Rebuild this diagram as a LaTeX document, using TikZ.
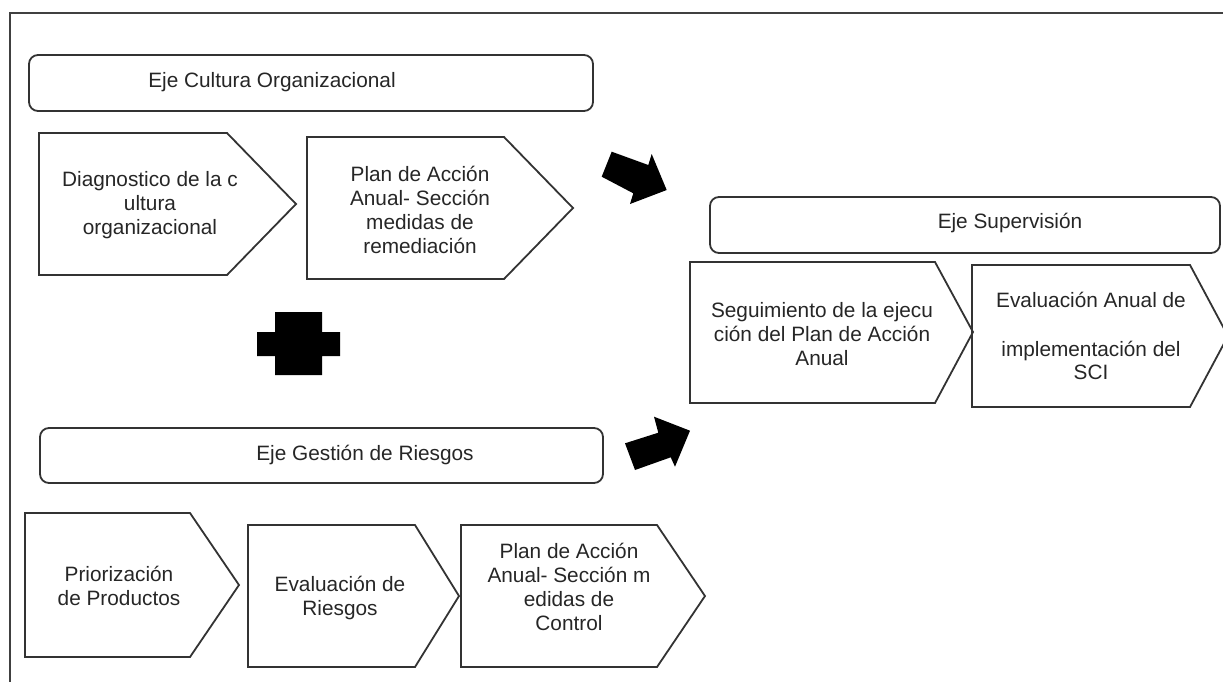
\documentclass[tikz,border=0pt]{standalone}
\usepackage{fontspec}
\setmainfont{Liberation Sans}
\begin{document}
\begin{tikzpicture}[x=1pt,y=-1pt,
  frame/.style={line width=1.4pt, draw=black!75},
  ejebox/.style={draw=black!80, line width=1.8pt, rounded corners=9pt},
  pent/.style={draw=black!80, line width=1.8pt, line join=miter},
  lbl/.style={font=\fontsize{20.8}{23.8}\selectfont, text=black!85, align=center, inner sep=0pt},
  blk/.style={fill=black}]
\useasboundingbox (0,0) rectangle (1223,681);
\clip (0,0) rectangle (1223,681);
% outer frame
\coordinate (fbl) at (10,700);
\coordinate (ftl) at (10,13);
\coordinate (ftr) at (1240,13);
\draw[frame] (fbl) -- (ftl) -- (ftr);

% Eje Cultura Organizacional
\draw[ejebox] (29,55) rectangle (593,111);
\node[lbl] (tcult) at (272,82) {Eje Cultura Organizacional};
\draw[pent] (39,133) -- (227,133) -- (296,204) -- (227,275) -- (39,275) -- cycle;
\node[lbl] (tdiag) at (150,205) {Diagnostico de la c\\ultura\\organizacional};
\draw[pent] (307,137) -- (504,137) -- (573,208) -- (504,279) -- (307,279) -- cycle;
\node[lbl] (tplan1) at (420,210) {Plan de Acción\\Anual- Sección\\medidas de\\remediación};

% arrow to supervision (down-right)
\fill[blk] (611.7,151.7) -- (648.3,165) -- (651.7,154) -- (666.7,190) -- (630,204) -- (633.3,193.3) -- (601.7,176.7) -- cycle;

% cross
\fill[blk] (275,312) -- (322,312) -- (322,332) -- (340,332) -- (340,356) -- (322,356) -- (322,375) -- (275,375) -- (275,356) -- (257,356) -- (257,332) -- (275,332) -- cycle;

% Eje Gestion de Riesgos
\draw[ejebox] (40,428) rectangle (603,483);
\node[lbl] (tgest) at (365,455) {Eje Gestión de Riesgos};
\draw[pent] (25,513) -- (190,513) -- (239,585) -- (190,657) -- (25,657) -- cycle;
\node[lbl] (tprio) at (119,586) {Priorización\\de Productos};
\draw[pent] (248,525) -- (415,525) -- (459,596) -- (415,667) -- (248,667) -- cycle;
\node[lbl] (teval) at (340,598) {Evaluación de\\Riesgos};
\draw[pent] (461,525) -- (657,525) -- (705,596) -- (657,667) -- (461,667) -- cycle;
\node[lbl] (tplan2) at (569,587) {Plan de Acción\\Anual- Sección m\\edidas de\\Control};

% arrow from gestion (up-right)
\fill[blk] (625,443.3) -- (658.3,432.7) -- (654,416.7) -- (690,430.7) -- (675,466.7) -- (670.7,457.3) -- (635,470) -- cycle;

% Eje Supervision
\draw[ejebox] (710,197) rectangle (1220,253);
\node[lbl] (tsup) at (1010,223) {Eje Supervisión};
\draw[pent] (690,262) -- (935,262) -- (973,332) -- (935,403) -- (690,403) -- cycle;
\node[lbl] (tseg) at (822,334) {Seguimiento de la ejecu\\ción del Plan de Acción\\Anual};
\draw[pent] (972,265) -- (1190,265) -- (1228,336) -- (1190,407) -- (972,407) -- cycle;
\node[lbl] (tevsci) at (1091,336) {Evaluación Anual de\\[25pt]implementación del\\SCI};
\end{tikzpicture}
\end{document}
